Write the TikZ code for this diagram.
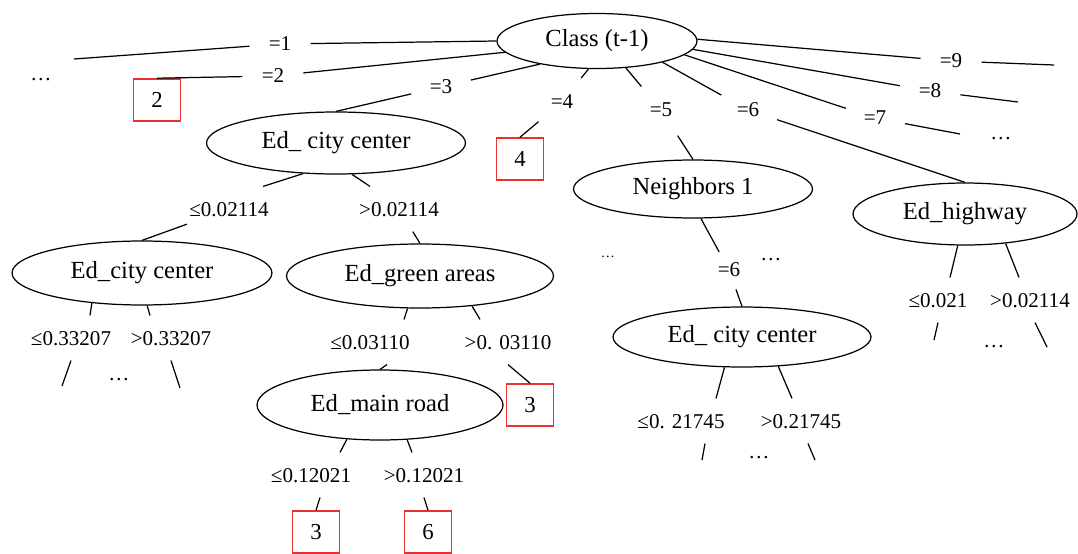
\documentclass[tikz,border=0pt]{standalone}
\usepackage{fontspec}
\setmainfont{Liberation Serif}
\usetikzlibrary{shapes.geometric}
\definecolor{leafred}{RGB}{232,48,48}

\begin{document}
\begin{tikzpicture}[x=0.02cm, y=-0.02cm, line width=0.7pt]
	\tikzstyle{every node}=[inner sep=1pt, align=center]
	\tikzstyle{attr}=[draw, ellipse, font=\fontsize{14}{16}\selectfont]
	\tikzstyle{leaf}=[draw=leafred, line width=0.9pt, minimum width=0.94cm, minimum height=0.84cm, font=\fontsize{13}{15}\selectfont]
	\tikzstyle{val}=[circle, minimum size=1.2cm, font=\fontsize{12}{14}\selectfont]
	\tikzstyle{cut}=[text height=8pt, text depth=0pt, inner ysep=8.5pt, font=\fontsize{12}{14}\selectfont]
	\tikzstyle{more}=[font=\fontsize{12}{14}\selectfont]
	\useasboundingbox (0,0) rectangle (1078,554);
	% attribute nodes
	\node[attr, minimum width=4cm, minimum height=1.1cm] (root) at (597,41) {Class (t-1)};
	\node[attr, minimum width=5.18cm, minimum height=1.24cm] (ed1) at (336,143) {Ed\_ city center};
	\node[attr, minimum width=5.2cm, minimum height=1.28cm] (ed2) at (142,273) {Ed\_city center};
	\node[attr, minimum width=5.34cm, minimum height=1.28cm] (green) at (420,276) {Ed\_green areas};
	\node[attr, minimum width=4.92cm, minimum height=1.4cm] (road) at (380,405) {Ed\_main road};
	\node[attr, minimum width=4.78cm, minimum height=1.16cm] (neigh) at (693,189) {Neighbors 1};
	\node[attr, minimum width=4.48cm, minimum height=1.24cm] (hwy) at (965,214) {Ed\_highway};
	\node[attr, minimum width=5.16cm, minimum height=1.2cm] (ed3) at (742,337) {Ed\_ city center};
	% class leaves
	\node[leaf] (b2) at (157,100) {2};
	\node[leaf] (b4) at (520,159) {4};
	\node[leaf] (b3a) at (530,405) {3};
	\node[leaf] (b3b) at (316,532) {3};
	\node[leaf] (b6) at (428,532) {6};
	% values of Class (t-1)
	\node[val] (e1) at (280,44) {=1};
	\node[val] (e2) at (273,76) {=2};
	\node[val] (e3) at (441,87) {=3};
	\node[val] (e4) at (562,102) {=4};
	\node[val] (e5) at (661,110) {=5};
	\node[val] (e6) at (748,110) {=6};
	\node[val] (e7) at (875,118) {=7};
	\node[val] (e8) at (930,91) {=8};
	\node[val] (e9) at (951,61) {=9};
	\node[val, minimum size=0.8cm] (n6) at (729,270) {=6};
	% thresholds
	\node[cut] (l1) at (229,209) {≤0.02114};
	\node[cut] (l2) at (399,209) {>0.02114};
	\node[cut] (l3) at (71,338) {≤0.33207};
	\node[cut] (l4) at (171,338) {>0.33207};
	\node[cut] (l5) at (370,342) {≤0.03110};
	\node[cut] (l6) at (508,342) {>0. 03110};
	\node[cut] (l7) at (311,475) {≤0.12021};
	\node[cut] (l8) at (424,475) {>0.12021};
	\node[cut] (l9) at (938,300) {≤0.021};
	\node[cut] (l10) at (1030,300) {>0.02114};
	\node[cut] (l11) at (681,421) {≤0. 21745};
	\node[cut] (l12) at (801,421) {>0.21745};
	% omitted branches
	\node[more] (m1) at (41,80) {…};
	\node[more] (m2) at (1001,139) {…};
	\node[more] (m3) at (119,380) {…};
	\node[more, font=\fontsize{8}{9}\selectfont] (m4) at (608,257) {…};
	\node[more] (m5) at (771,260) {…};
	\node[more] (m6) at (994,347) {…};
	\node[more] (m7) at (759,458) {…};
	\coordinate (d1) at (74,59);
	\coordinate (d7) at (960,134);
	\coordinate (d8) at (1018,102);
	\coordinate (d9) at (1054,65);
	\coordinate (c3) at (62,386);
	\coordinate (c4) at (180,388);
	\coordinate (c9) at (934,340);
	\coordinate (c10) at (1047,347);
	\coordinate (c11) at (702,460);
	\coordinate (c12) at (815,460);
	% branches of Class (t-1)
	\draw (root.180) -- (e1);
	\draw (e1) -- (d1);
	\draw (root.187) -- (e2);
	\draw (e2) -- (b2.north);
	\draw (root.202) -- (e3);
	\draw (e3) -- (ed1.north);
	\draw (root.253) -- (e4);
	\draw (e4) -- (b4.north);
	\draw (root.317) -- (e5);
	\draw (e5) -- (neigh.north);
	\draw (root.342) -- (e6);
	\draw (e6) -- (hwy.north);
	\draw (root.351) -- (e7);
	\draw (e7) -- (d7);
	\draw (root.355) -- (e8);
	\draw (e8) -- (d8);
	\draw (root.1) -- (e9);
	\draw (e9) -- (d9);
	% splits
	\draw (ed1.223) -- ([xshift=0.68cm]l1.north);
	\draw (ed1.297) -- ([xshift=-0.58cm]l2.north);
	\draw (l1) -- (ed2.north);
	\draw (l2) -- (green.north);
	\draw (ed2.211) -- ([xshift=0.38cm]l3.north);
	\draw (ed2.279) -- ([xshift=-0.42cm]l4.north);
	\draw (l3.south) -- (c3);
	\draw (l4.south) -- (c4);
	\draw (green.249) -- ([xshift=0.68cm]l5.north);
	\draw (green.330) -- ([xshift=-0.56cm]l6.north);
	\draw ([xshift=0.34cm]l5.south) -- (road.north);
	\draw (l6.south) -- (b3a.north);
	\draw (road.226) -- ([xshift=0.58cm]l7.north);
	\draw (road.308) -- ([xshift=-0.24cm]l8.north);
	\draw ([xshift=0.18cm]l7.south) -- (b3b.north);
	\draw (l8.south) -- (b6.north);
	\draw (neigh.285) -- (n6);
	\draw (n6) -- (ed3.north);
	\draw (hwy.257) -- ([xshift=0.24cm]l9.north);
	\draw (hwy.324) -- ([xshift=-0.22cm]l10.north);
	\draw (l9.south) -- (c9);
	\draw ([xshift=0.1cm]l10.south) -- (c10);
	\draw (ed3.240) -- ([xshift=0.7cm]l11.north);
	\draw (ed3.321) -- ([xshift=-0.18cm]l12.north);
	\draw ([xshift=0.48cm]l11.south) -- (c11);
	\draw ([xshift=0.14cm]l12.south) -- (c12);
\end{tikzpicture}
\end{document}
